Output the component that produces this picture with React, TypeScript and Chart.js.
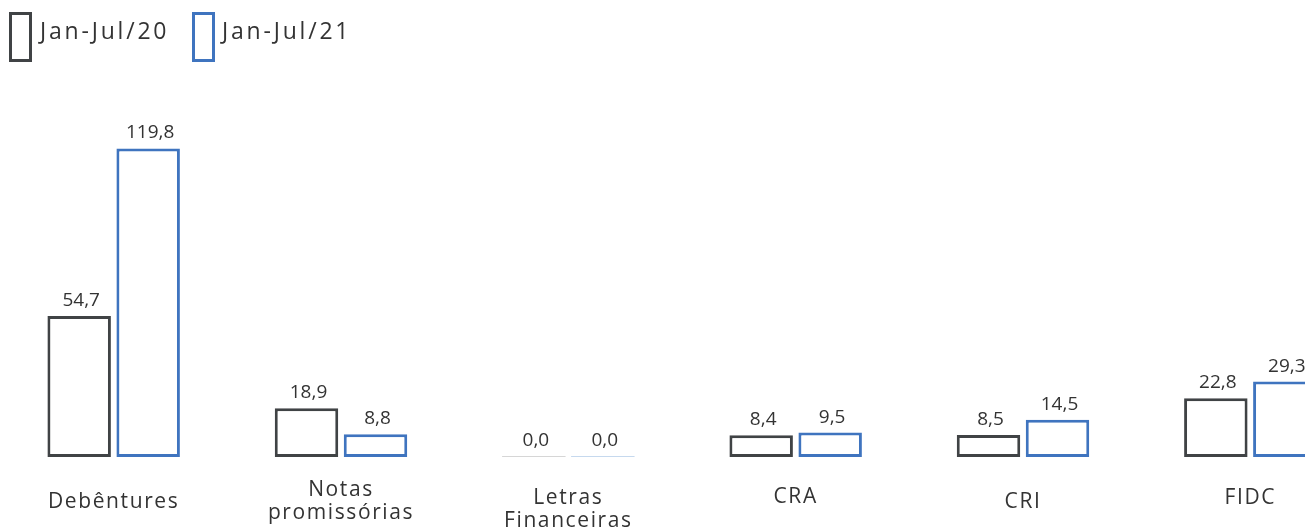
import React, { useEffect, useRef } from "react";
import { Chart, registerables } from "chart.js";

Chart.register(...registerables);

// Issuance volume by instrument (R$ billion)
const categories: (string | string[])[] = [
  "Debêntures",
  ["Notas", "promissórias"],
  ["Letras", "Financeiras"],
  "CRA",
  "CRI",
  "FIDC",
];
const seriesLabels = ["Jan-Jul/20", "Jan-Jul/21"];
const values2020 = [54.7, 18.9, 0.0, 8.4, 8.5, 22.8];
const values2021 = [119.8, 8.8, 0.0, 9.5, 14.5, 29.3];

const GRAY = "#404345";
const BLUE = "#3f74bf";
const GRAY_ZERO = "#d6d6d6";
const BLUE_ZERO = "#c6d9ee";
const TEXT = "#333333";
const FONT = "'Open Sans', sans-serif";

// vertical distance (px) from the baseline to the first line of each category label
const labelDrop = [45, 33, 41, 40, 45, 41];

const fmt = (v: number) => v.toFixed(1).replace(".", ",");

const valueLabels = {
  id: "valueLabels",
  afterDatasetsDraw(chart: any) {
    const ctx = chart.ctx;
    ctx.save();
    ctx.font = `19px ${FONT}`;
    ctx.fillStyle = TEXT;
    ctx.textAlign = "center";
    ctx.textBaseline = "alphabetic";
    chart.data.datasets.forEach((ds: any, di: number) => {
      const meta = chart.getDatasetMeta(di);
      meta.data.forEach((el: any, i: number) => {
        const v = ds.data[i] as number;
        const top = Math.min(el.y, el.base);
        ctx.fillText(fmt(v), el.x + 2, top - 10);
      });
    });
    ctx.restore();
  },
};

const categoryLabels = {
  id: "categoryLabels",
  afterDraw(chart: any) {
    const ctx = chart.ctx;
    const xs = chart.scales.x;
    const base = chart.chartArea.bottom;
    ctx.save();
    ctx.font = `21px ${FONT}`;
    ctx.fillStyle = TEXT;
    ctx.textAlign = "center";
    ctx.textBaseline = "middle";
    (ctx as any).letterSpacing = "1.6px";
    categories.forEach((c, i) => {
      const lines = Array.isArray(c) ? c : [c];
      const x = xs.getPixelForValue(i);
      lines.forEach((ln, li) => {
        ctx.fillText(ln, x, base + labelDrop[i] + li * 23);
      });
    });
    ctx.restore();
  },
};

export default function App() {
  const ref = useRef<HTMLCanvasElement | null>(null);

  useEffect(() => {
    if (!ref.current) return;
    const make = (data: number[], color: string, zero: string, label: string) => ({
      label,
      data,
      backgroundColor: (c: any) => (data[c.dataIndex] === 0 ? zero : "#ffffff"),
      borderColor: color,
      borderWidth: (c: any) => (data[c.dataIndex] === 0 ? 0 : 3),
      borderSkipped: false,
      minBarLength: 1,
      categoryPercentage: 0.607,
      barPercentage: 0.92,
    });
    const chart = new Chart(ref.current, {
      type: "bar",
      data: {
        labels: categories as any,
        datasets: [
          make(values2020, GRAY, GRAY_ZERO, seriesLabels[0]) as any,
          make(values2021, BLUE, BLUE_ZERO, seriesLabels[1]) as any,
        ],
      },
      options: {
        animation: false,
        responsive: true,
        maintainAspectRatio: false,
        layout: { padding: { top: 99, bottom: 71, left: 0, right: 0 } },
        plugins: { legend: { display: false }, tooltip: { enabled: false } },
        scales: {
          x: { display: false },
          y: { display: false, min: 0, max: 139 },
        },
      },
      plugins: [valueLabels, categoryLabels],
    });
    return () => chart.destroy();
  }, []);

  const legendText: React.CSSProperties = {
    position: "absolute",
    top: 19,
    fontFamily: FONT,
    fontSize: 23,
    lineHeight: "23px",
    letterSpacing: "2.8px",
    color: TEXT,
    whiteSpace: "nowrap",
  };
  const legendBox: React.CSSProperties = {
    position: "absolute",
    top: 12,
    width: 23,
    height: 50,
    boxSizing: "border-box",
    background: "#fff",
  };

  return (
    <div
      style={{
        position: "fixed",
        left: 0,
        top: 0,
        width: 1305,
        height: 528,
        overflow: "hidden",
        background: "#ffffff",
      }}
    >
      <div style={{ position: "absolute", left: 0, top: 0, width: 1364, height: 528 }}>
        <canvas ref={ref} />
      </div>
      <div style={{ ...legendBox, left: 9, border: `3px solid ${GRAY}` }} />
      <div style={{ ...legendText, left: 40 }}>{seriesLabels[0]}</div>
      <div style={{ ...legendBox, left: 192, border: `3px solid ${BLUE}` }} />
      <div style={{ ...legendText, left: 222 }}>{seriesLabels[1]}</div>
    </div>
  );
}
